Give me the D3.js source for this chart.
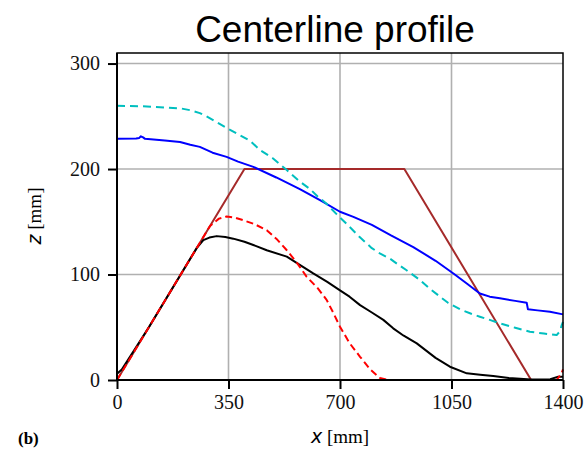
<!DOCTYPE html>
<html>
<head>
<meta charset="utf-8">
<script src="https://cdn.jsdelivr.net/npm/d3@7"></script>
<style>
  body { margin: 0; background: #fff; }
  svg { display: block; }
</style>
</head>
<body>
<svg id="chart" width="588" height="450"></svg>
<script>
// values, x in mm, z in mm
var xTicks = [0, 350, 700, 1050, 1400];
var zTicks = [0, 100, 200, 300];

var trapezoidX = [0, 400, 902, 1300];
var trapezoidZ = [0, 200, 200, 0];

var blueX = [0, 60, 70, 75, 82, 88, 150, 198, 230, 260, 300, 344, 380, 428, 500, 574, 640, 700, 742, 800, 860, 930, 1000, 1056, 1100, 1139, 1170, 1202, 1250, 1286, 1290, 1320, 1359, 1400];
var blueZ = [228.6, 229, 229.5, 231, 230, 228.6, 227, 225.7, 223, 221, 215.5, 211.5, 207, 202, 192, 181, 170, 159.5, 154.7, 147, 137, 126, 113, 101, 91, 82, 79, 77.4, 75, 73.3, 67, 66, 64.7, 62.2];

var cyanX = [0, 80, 156, 200, 229, 260, 281, 310, 344, 380, 417, 449, 490, 533, 570, 606, 630, 658, 690, 721, 760, 800, 825, 857, 880, 909, 950, 980, 1014, 1040, 1077, 1110, 1139, 1170, 1202, 1250, 1296, 1340, 1380, 1390, 1396, 1400];
var cyanZ = [260, 259.5, 258.3, 257.5, 255.8, 253, 250, 245, 239, 233, 227, 218, 210, 199, 189, 181, 174, 167, 157, 148, 136, 125, 120, 115, 110, 104, 95, 87, 79, 73, 67, 63, 60, 57, 53.7, 49.5, 45.8, 44, 42.6, 46, 52, 55];

var blackX = [0, 15, 100, 200, 250, 271, 290, 313, 340, 365, 400, 428, 470, 533, 580, 616, 660, 700, 730, 763, 800, 836, 867, 900, 941, 1000, 1045, 1098, 1140, 1181, 1230, 1265, 1300, 1360, 1385, 1400];
var blackZ = [6, 10, 50, 100, 125, 132.6, 135, 136.4, 135.5, 134, 131, 128, 123, 117, 108, 101, 93, 85, 79, 71, 64, 57, 49, 42, 34.7, 21, 12.6, 6.3, 5, 3.8, 2, 1.3, 0.5, 0.8, 3, 3];

var redX = [0, 100, 200, 250, 292, 320, 344, 370, 396, 430, 470, 500, 533, 565, 595, 630, 658, 680, 700, 730, 763, 795, 825, 850, 1380, 1395, 1400];
var redZ = [0, 50, 100, 125, 146, 153, 155, 154, 151.5, 148, 142, 134, 123, 111, 98, 87, 76, 63, 50.5, 35, 22, 10, 2, 0, 0, 6, 10];

var svg = d3.select('#chart');
var plotLeft = 117, plotRight = 563, plotTop = 53, plotBottom = 380;

var x = d3.scaleLinear().domain([0, 1400]).range([plotLeft, plotRight]);
var y = d3.scaleLinear().domain([0, 310]).range([plotBottom, plotTop]);

// grid
svg.append('g')
    .selectAll('line')
    .data(xTicks.slice(1, -1))
    .enter().append('line')
    .attr('x1', function(d){ return x(d); })
    .attr('x2', function(d){ return x(d); })
    .attr('y1', plotTop).attr('y2', plotBottom)
    .style('stroke', '#b0b0b0').style('stroke-width', 1.6);
svg.append('g')
    .selectAll('line')
    .data(zTicks.slice(1))
    .enter().append('line')
    .attr('x1', plotLeft).attr('x2', plotRight)
    .attr('y1', function(d){ return y(d); })
    .attr('y2', function(d){ return y(d); })
    .style('stroke', '#b0b0b0').style('stroke-width', 1.6);

var plot = svg.append('g');
var line = d3.line()
    .x(function(d){ return x(d[0]); })
    .y(function(d){ return y(d[1]); });

function drawSeries(xs, zs, color, dash){
    var pts = d3.zip(xs, zs);
    var path = plot.append('path')
        .datum(pts)
        .attr('d', line)
        .style('fill', 'none')
        .style('stroke', color)
        .style('stroke-width', 2)
        .style('stroke-linejoin', 'round');
    if(dash){
        path.style('stroke-dasharray', dash);
    }
}

drawSeries(trapezoidX, trapezoidZ, '#a52a2a');
drawSeries(blueX, blueZ, '#0000ff');
drawSeries(cyanX, cyanZ, '#00bfbf', '8,5');
drawSeries(blackX, blackZ, '#000000');
drawSeries(redX, redZ, '#ff0000', '7,4');

// box
svg.append('rect')
    .attr('x', plotLeft).attr('y', plotTop)
    .attr('width', plotRight - plotLeft).attr('height', plotBottom - plotTop)
    .style('fill', 'none')
    .style('stroke', 'black')
    .style('stroke-width', 1.5);

// axes
var xAxis = svg.append('g')
    .attr('transform', 'translate(0,' + plotBottom + ')')
    .call(d3.axisBottom(x).tickValues(xTicks).tickFormat(d3.format('d')).tickSize(9).tickPadding(6));
var yAxis = svg.append('g')
    .attr('transform', 'translate(' + plotLeft + ',0)')
    .call(d3.axisLeft(y).tickValues(zTicks).tickFormat(d3.format('d')).tickSize(9).tickPadding(8));

[xAxis, yAxis].forEach(function(a){
    a.select('.domain').remove();
    a.selectAll('.tick line').style('stroke', 'black').style('stroke-width', 2);
    a.selectAll('.tick text')
        .style('font-family', '"Liberation Serif", "Times New Roman", serif')
        .style('font-size', '20px')
        .style('fill', '#111');
});
svg.append('line')
    .attr('x1', plotLeft).attr('x2', plotRight)
    .attr('y1', plotBottom).attr('y2', plotBottom)
    .style('stroke', 'black').style('stroke-width', 2);
svg.append('line')
    .attr('x1', plotLeft).attr('x2', plotLeft)
    .attr('y1', plotTop).attr('y2', plotBottom)
    .style('stroke', 'black').style('stroke-width', 2);

// title
svg.append('text')
    .attr('x', 335).attr('y', 42)
    .attr('text-anchor', 'middle')
    .style('font-family', '"Liberation Sans", Arial, sans-serif')
    .style('font-size', '37px')
    .text('Centerline profile');

// axis labels
var xl = svg.append('text')
    .attr('x', 340).attr('y', 443)
    .attr('text-anchor', 'middle')
    .style('font-size', '19px');
xl.append('tspan')
    .style('font-family', '"DejaVu Sans", sans-serif')
    .style('font-style', 'italic')
    .text('x');
xl.append('tspan')
    .style('font-family', '"Liberation Serif", serif')
    .text(' [mm]');

var yl = svg.append('text')
    .attr('transform', 'translate(41,216) rotate(-90)')
    .attr('text-anchor', 'middle')
    .style('font-size', '19px');
yl.append('tspan')
    .style('font-family', '"DejaVu Sans", sans-serif')
    .style('font-style', 'italic')
    .text('z');
yl.append('tspan')
    .style('font-family', '"Liberation Serif", serif')
    .text(' [mm]');

svg.append('text')
    .attr('x', 18).attr('y', 444)
    .style('font-family', '"Liberation Serif", serif')
    .style('font-weight', 'bold')
    .style('font-size', '17px')
    .text('(b)');
</script>
</body>
</html>
